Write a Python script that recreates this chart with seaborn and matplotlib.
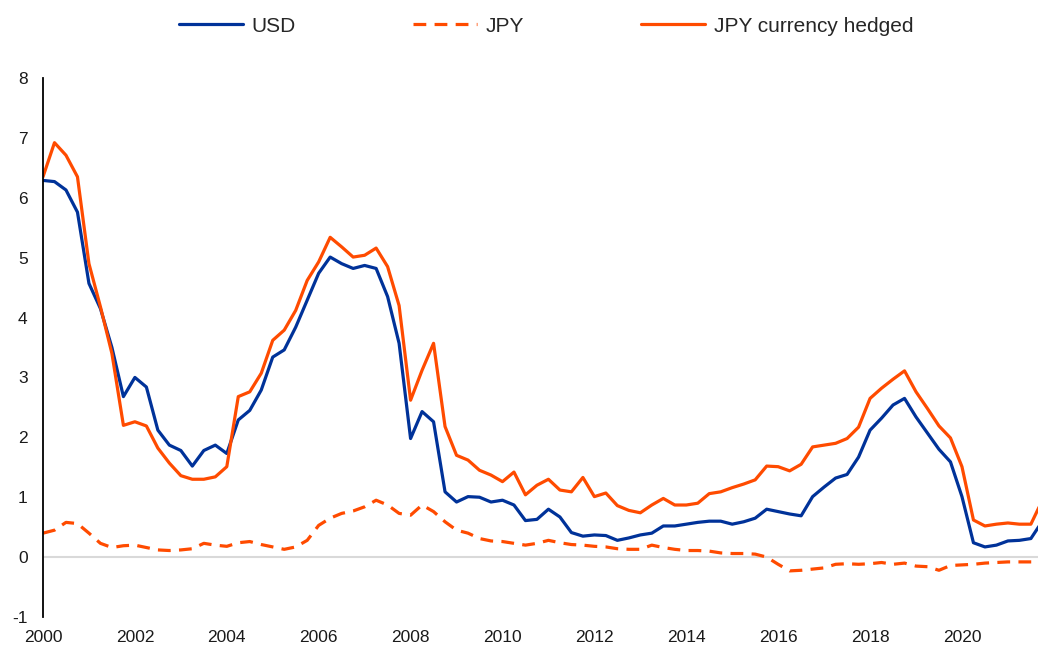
#import libraries
import pandas as pd
import matplotlib.pyplot as plt
import seaborn as sns

# quarterly data, 2000Q1 - 2021Q4
usd = [6.29, 6.27, 6.13, 5.76, 4.57, 4.15, 3.50, 2.68,
       3.00, 2.84, 2.12, 1.87, 1.78, 1.52, 1.78, 1.87,
       1.73, 2.29, 2.45, 2.79, 3.34, 3.46, 3.84, 4.29,
       4.74, 5.01, 4.90, 4.82, 4.87, 4.82, 4.35, 3.57,
       1.98, 2.43, 2.26, 1.09, 0.92, 1.01, 1.00, 0.92,
       0.95, 0.87, 0.61, 0.63, 0.80, 0.67, 0.41, 0.35,
       0.37, 0.36, 0.28, 0.32, 0.37, 0.40, 0.52, 0.52,
       0.55, 0.58, 0.60, 0.60, 0.55, 0.59, 0.65, 0.80,
       0.76, 0.72, 0.69, 1.01, 1.17, 1.32, 1.38, 1.67,
       2.12, 2.32, 2.54, 2.65, 2.34, 2.07, 1.80, 1.59,
       1.01, 0.24, 0.17, 0.20, 0.27, 0.28, 0.31, 0.60]
jpy = [0.40, 0.45, 0.58, 0.56, 0.40, 0.23, 0.16, 0.19,
       0.20, 0.16, 0.12, 0.11, 0.12, 0.14, 0.23, 0.20,
       0.18, 0.24, 0.26, 0.21, 0.17, 0.13, 0.17, 0.28,
       0.53, 0.65, 0.73, 0.77, 0.84, 0.95, 0.87, 0.73,
       0.70, 0.87, 0.76, 0.59, 0.45, 0.40, 0.31, 0.27,
       0.26, 0.23, 0.20, 0.23, 0.28, 0.24, 0.21, 0.20,
       0.18, 0.17, 0.14, 0.13, 0.13, 0.20, 0.16, 0.13,
       0.11, 0.11, 0.10, 0.07, 0.06, 0.06, 0.05, 0.00,
       -0.12, -0.23, -0.22, -0.20, -0.18, -0.12, -0.11, -0.12,
       -0.11, -0.09, -0.12, -0.10, -0.15, -0.16, -0.22, -0.14,
       -0.13, -0.12, -0.10, -0.09, -0.08, -0.08, -0.08, -0.08]
jpy_hedged = [6.35, 6.92, 6.71, 6.35, 4.90, 4.18, 3.40, 2.20,
              2.26, 2.19, 1.82, 1.57, 1.36, 1.30, 1.30, 1.34,
              1.51, 2.68, 2.76, 3.07, 3.62, 3.79, 4.12, 4.62,
              4.93, 5.34, 5.18, 5.01, 5.04, 5.16, 4.85, 4.20,
              2.62, 3.12, 3.57, 2.18, 1.70, 1.62, 1.45, 1.37,
              1.26, 1.42, 1.04, 1.20, 1.30, 1.12, 1.09, 1.33,
              1.01, 1.07, 0.86, 0.78, 0.74, 0.87, 0.98, 0.87,
              0.87, 0.90, 1.06, 1.09, 1.16, 1.22, 1.29, 1.52,
              1.51, 1.44, 1.55, 1.84, 1.87, 1.90, 1.98, 2.17,
              2.65, 2.82, 2.97, 3.11, 2.76, 2.48, 2.19, 1.99,
              1.51, 0.62, 0.52, 0.55, 0.57, 0.55, 0.55, 0.95]
years = [2000 + i / 4 for i in range(len(usd))]
xticks = list(range(2000, 2021, 2))

df = pd.DataFrame({'date': years, 'USD': usd, 'JPY': jpy,
                   'JPY currency hedged': jpy_hedged})

sns.set_style('white')
plt.rcParams['font.family'] = ['Liberation Sans', 'DejaVu Sans']
plt.rcParams['axes.unicode_minus'] = False

blue = '#003299'
orange = '#FF4B00'

fig = plt.figure(figsize=(10.38, 6.46), dpi=100)
ax = fig.add_axes([43 / 1038, 1 - 617 / 646, 1 - 43 / 1038, (617 - 78) / 646])

ax.axhline(0, color='#d9d9d9', lw=1.5, zorder=1)
sns.lineplot(x='date', y='USD', data=df, color=blue, lw=2.3, label='USD', ax=ax)
sns.lineplot(x='date', y='JPY', data=df, color=orange, lw=2.3, label='JPY',
             ax=ax, dashes=False)
ax.lines[-1].set_dashes((4, 2.6))
sns.lineplot(x='date', y='JPY currency hedged', data=df, color=orange, lw=2.3,
             label='JPY currency hedged', ax=ax)

ax.set_xlim(2000, 2021.655)
ax.set_ylim(-1, 8)
ax.set_xticks(xticks)
ax.set_xticklabels([str(y) for y in xticks])
ax.set_yticks(range(-1, 9))
ax.set_xlabel('')
ax.set_ylabel('')
ax.tick_params(axis='both', length=0, labelsize=12.5, colors='#1a1a1a')
ax.tick_params(axis='y', pad=11)
ax.tick_params(axis='x', pad=9)
for s in ['top', 'right', 'bottom']:
    ax.spines[s].set_visible(False)
ax.spines['left'].set_color('black')
ax.spines['left'].set_linewidth(1.3)

handles, labels = ax.get_legend_handles_labels()
ax.get_legend().remove()
fig.legend(handles, labels, loc='center', bbox_to_anchor=(546 / 1038, 1 - 26 / 646),
           ncol=3, frameon=False, fontsize=15, handlelength=3.1,
           handletextpad=0.4, columnspacing=5.6)

plt.savefig('out.png', dpi=100)
